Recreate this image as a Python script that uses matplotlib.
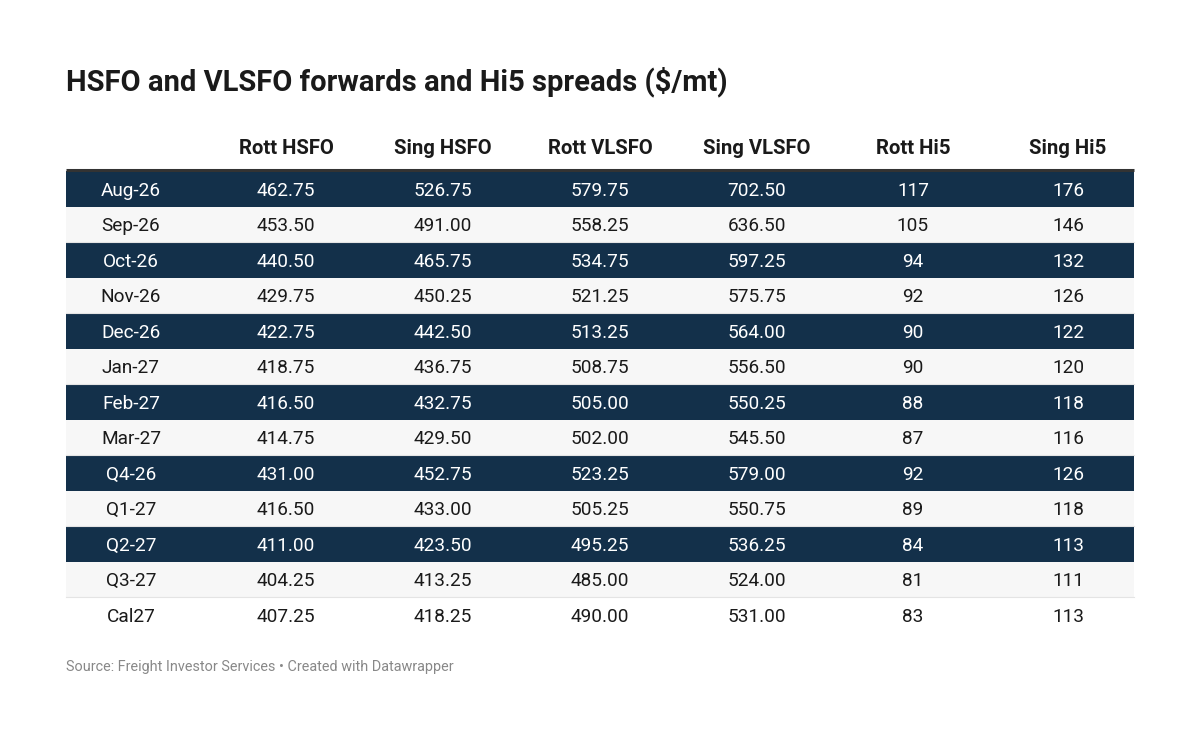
import matplotlib.pyplot as plt
from matplotlib.patches import Rectangle

plt.rcParams['font.family'] = ['Roboto', 'DejaVu Sans']

# --- Table data
columns = ['Rott HSFO', 'Sing HSFO', 'Rott VLSFO', 'Sing VLSFO', 'Rott Hi5', 'Sing Hi5']
periods = ['Aug-26', 'Sep-26', 'Oct-26', 'Nov-26', 'Dec-26', 'Jan-27', 'Feb-27',
           'Mar-27', 'Q4-26', 'Q1-27', 'Q2-27', 'Q3-27', 'Cal27']
rott_hsfo = [462.75, 453.50, 440.50, 429.75, 422.75, 418.75, 416.50,
             414.75, 431.00, 416.50, 411.00, 404.25, 407.25]
sing_hsfo = [526.75, 491.00, 465.75, 450.25, 442.50, 436.75, 432.75,
             429.50, 452.75, 433.00, 423.50, 413.25, 418.25]
rott_vlsfo = [579.75, 558.25, 534.75, 521.25, 513.25, 508.75, 505.00,
              502.00, 523.25, 505.25, 495.25, 485.00, 490.00]
sing_vlsfo = [702.50, 636.50, 597.25, 575.75, 564.00, 556.50, 550.25,
              545.50, 579.00, 550.75, 536.25, 524.00, 531.00]
rott_hi5 = [117, 105, 94, 92, 90, 90, 88, 87, 92, 89, 84, 81, 83]
sing_hi5 = [176, 146, 132, 126, 122, 120, 118, 116, 126, 118, 113, 111, 113]

title = 'HSFO and VLSFO forwards and Hi5 spreads ($/mt)'
source = 'Source: Freight Investor Services \u2022 Created with Datawrapper'

DARK = '#13304a'
LIGHT = '#f7f7f7'

W, H = 1200, 742
fig = plt.figure(figsize=(12, 7.42), dpi=100)
ax = fig.add_axes([0, 0, 1, 1])
ax.set_xlim(0, W)
ax.set_ylim(H, 0)
ax.axis('off')

left, right = 66, 1134
top = 171
row_h = 35.5
col_x = [131, 286, 443, 600, 757, 913, 1068]

fig.text(66 / W, 1 - 82 / H, title, fontsize=21, fontweight='bold',
         color='#1a1a1a', va='center', ha='left')

for x, c in zip(col_x[1:], columns):
    ax.text(x, 148, c, fontsize=14.6, fontweight='bold', color='#1a1a1a',
            ha='center', va='center')

ax.plot([left, right], [top - 1, top - 1], color='#333333', lw=2.2,
        solid_capstyle='butt', zorder=3)

values = list(zip(rott_hsfo, sing_hsfo, rott_vlsfo, sing_vlsfo))
for i, p in enumerate(periods):
    y0 = top + i * row_h
    yc = y0 + row_h / 2
    last = i == len(periods) - 1
    if last:
        bg, fg = 'white', '#1a1a1a'
    elif i % 2 == 0:
        bg, fg = DARK, 'white'
    else:
        bg, fg = LIGHT, '#1a1a1a'
    ax.add_patch(Rectangle((left, y0), right - left, row_h, facecolor=bg,
                           edgecolor='none', zorder=1))
    if bg != DARK and not last:
        ax.plot([left, right], [y0 + row_h, y0 + row_h], color='#e4e4e4',
                lw=0.8, zorder=2)
    cells = [p] + [f'{v:.2f}' for v in values[i]] + [f'{rott_hi5[i]}', f'{sing_hi5[i]}']
    for x, t in zip(col_x, cells):
        ax.text(x, yc + 1.8, t, fontsize=13.7, color=fg, ha='center', va='center',
                zorder=4)

ax.text(66, 667, source, fontsize=10.4, color='#888888', ha='left', va='center')

fig.savefig('out.png', dpi=100)
